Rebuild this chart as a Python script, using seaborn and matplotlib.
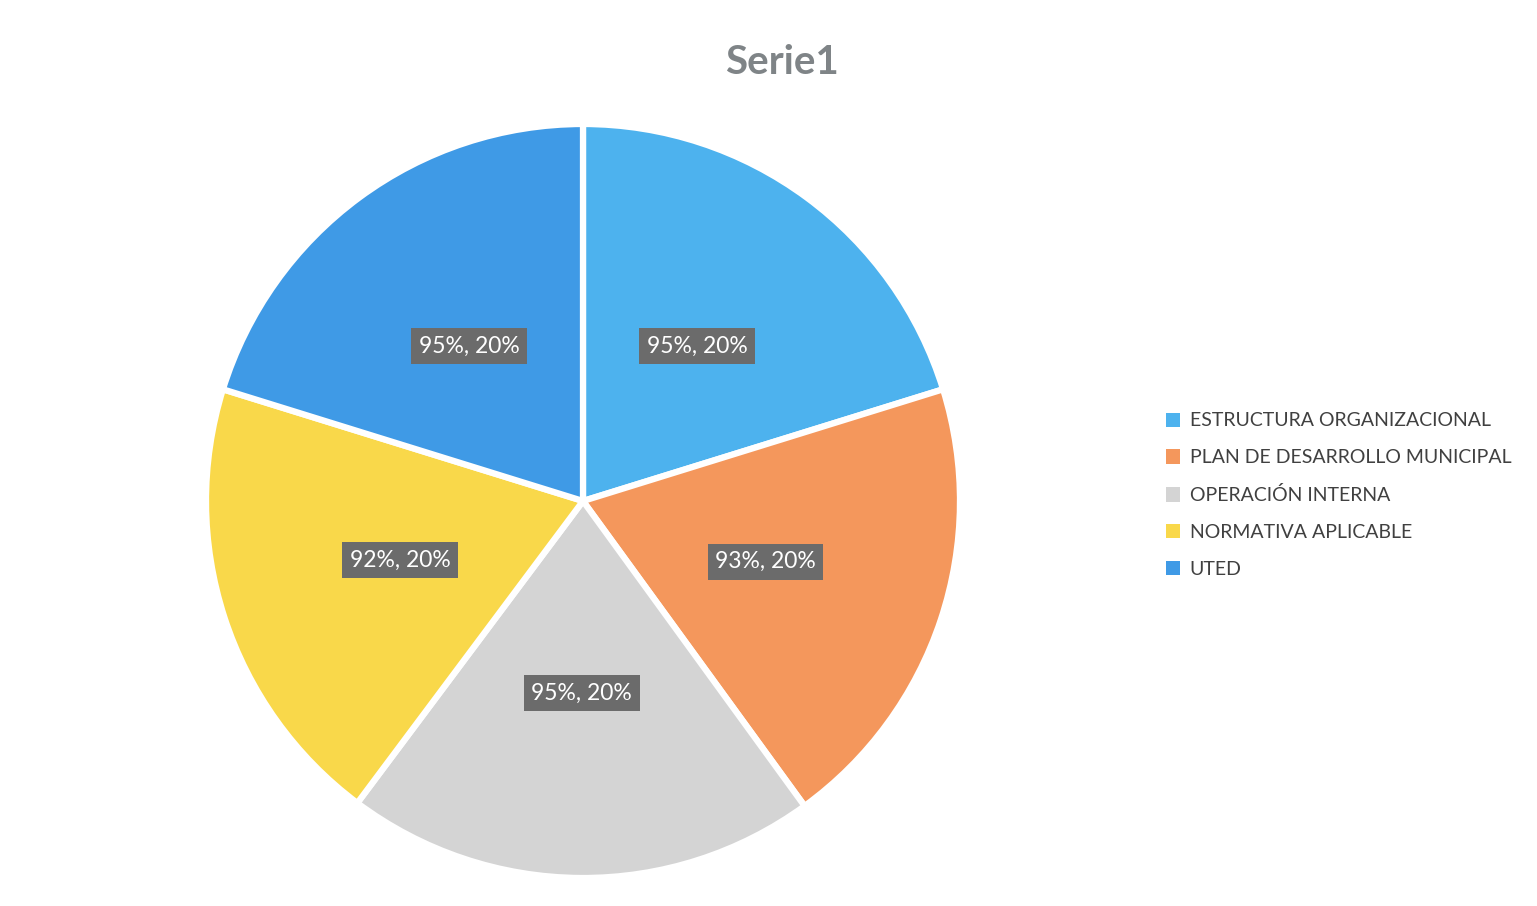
import matplotlib
matplotlib.use("Agg")
import matplotlib.pyplot as plt
import seaborn as sns
import numpy as np
from matplotlib.patches import Patch

categories = ["ESTRUCTURA ORGANIZACIONAL", "PLAN DE DESARROLLO MUNICIPAL",
              "OPERACIÓN INTERNA", "NORMATIVA APLICABLE", "UTED"]
values = [0.95, 0.93, 0.95, 0.92, 0.95]
colors = ["#4DB2EE", "#F4975C", "#D4D4D4", "#F9D84A", "#3F9AE6"]
title = "Serie1"

sns.set_theme(style="white")
plt.rcParams['font.family'] = ['Lato', 'DejaVu Sans']

W, H = 1537, 906
fig = plt.figure(figsize=(W / 100, H / 100), dpi=100)
fig.patch.set_facecolor("white")

cx, cy, r = 583, 501, 377
ax = fig.add_axes([(cx - r) / W, (H - cy - r) / H, 2 * r / W, 2 * r / H])

total = sum(values)
wedges, texts = ax.pie(values, colors=colors, startangle=90, counterclock=False,
                       radius=1.0, labels=None,
                       wedgeprops=dict(edgecolor="white", linewidth=4.5))
ax.set_xlim(-1, 1)
ax.set_ylim(-1, 1)
ax.set_aspect("equal")
ax.axis("off")

for w, v in zip(wedges, values):
    ang = np.deg2rad((w.theta1 + w.theta2) / 2)
    x, y = 0.51 * np.cos(ang), 0.51 * np.sin(ang)
    ax.text(x, y, f"{v*100:.0f}%, {v/total*100:.0f}%", ha="center", va="center",
            fontsize=16.5, color="white",
            bbox=dict(boxstyle="square,pad=0.33", facecolor="#6B6B6B", edgecolor="none"))

fig.text(782 / W, 1 - 62 / H, title, ha="center", va="center", fontsize=29,
         fontweight="bold", color="#7F8487")

handles = [Patch(facecolor=c, edgecolor="none") for c in colors]
fig.legend(handles, categories, loc="upper left", bbox_to_anchor=(1148 / W, 1 - 395 / H),
           frameon=False, fontsize=14, handlelength=0.75, handleheight=0.75,
           handletextpad=0.5, labelspacing=1.02, labelcolor="#404040")

fig.savefig("out.png", dpi=100, facecolor="white")
